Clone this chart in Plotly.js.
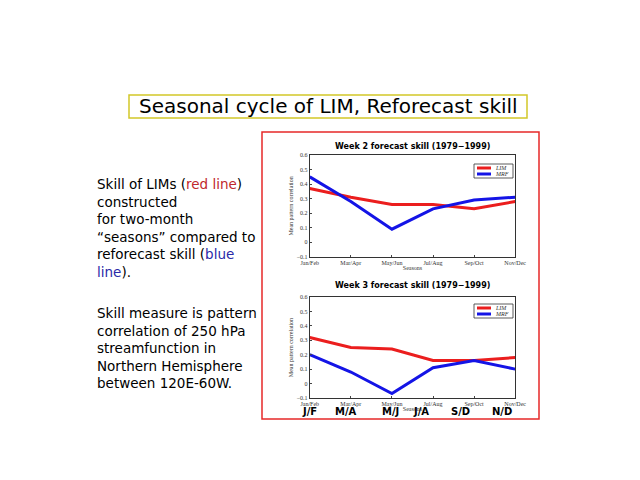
<!DOCTYPE html>
<html>
<head>
<script src="https://cdn.plot.ly/plotly-3.0.1.min.js"></script>
<style>body{margin:0;}#chart{width:640px;height:480px;}</style>
</head>
<body>
<div id="chart"></div>
<script>
var seasons = ['Jan/Feb', 'Mar/Apr', 'May/Jun', 'Jul/Aug', 'Sep/Oct', 'Nov/Dec'];
var shortSeasons = ['J/F', 'M/A', 'M/J', 'J/A', 'S/D', 'N/D'];
var week2_lim = [0.37, 0.31, 0.26, 0.26, 0.23, 0.28];
var week2_mrf = [0.45, 0.28, 0.09, 0.23, 0.29, 0.31];
var week3_lim = [0.32, 0.25, 0.24, 0.16, 0.16, 0.18];
var week3_mrf = [0.20, 0.08, -0.07, 0.11, 0.16, 0.10];

var red = 'rgb(235,30,30)';
var blue = 'rgb(20,20,230)';

function tr(y, name, color, xa, ya) {
    return {x: seasons, y: y, name: name, type: 'scatter', mode: 'lines',
        line: {color: color, width: 3}, xaxis: xa, yaxis: ya, showlegend: false};
}

var data = [
    tr(week2_lim, 'LIM', red, 'x', 'y'),
    tr(week2_mrf, 'MRF', blue, 'x', 'y'),
    tr(week3_lim, 'LIM', red, 'x2', 'y2'),
    tr(week3_mrf, 'MRF', blue, 'x2', 'y2')
];

var axFont = {family: 'Liberation Serif', size: 6, color: '#333'};
function xax(anchor) {
    return {domain: [0.484, 0.805], anchor: anchor, range: [0, 5], tickfont: axFont,
        showline: true, mirror: true, linecolor: '#333', showgrid: false, ticks: 'inside', ticklen: 2,
        title: {text: 'Seasons', font: axFont, standoff: 0}};
}
function yax(anchor, dom) {
    return {domain: dom, anchor: anchor, range: [-0.1, 0.6], dtick: 0.1, tickfont: axFont,
        showline: true, mirror: true, linecolor: '#333', showgrid: false, zeroline: false,
        ticks: 'inside', ticklen: 2,
        title: {text: 'Mean pattern correlation', font: axFont, standoff: 2}};
}

var ann = [
    {text: 'Seasonal cycle of LIM, Reforecast skill', x: 328, y: 106, size: 20, xanchor: 'center'},
    {text: 'Week 2 forecast skill (1979\u22121999)', x: 412, y: 146, size: 8, xanchor: 'center', bold: true},
    {text: 'Week 3 forecast skill (1979\u22121999)', x: 412, y: 285, size: 8, xanchor: 'center', bold: true},
    {text: 'Skill of LIMs (<span style="color:#c0282d">red line</span>)<br>constructed<br>for two-month<br>\u201cseasons\u201d compared to<br>reforecast skill (<span style="color:#2a2aa8">blue</span><br><span style="color:#2a2aa8">line</span>).', x: 95, y: 228, size: 13.5, xanchor: 'left'},
    {text: 'Skill measure is pattern<br>correlation of 250 hPa<br>streamfunction in<br>Northern Hemisphere<br>between 120E-60W.', x: 95, y: 348, size: 13.5, xanchor: 'left'}
];
var annotations = ann.map(function (a) {
    return {text: a.bold ? '<b>' + a.text + '</b>' : a.text, xref: 'paper', yref: 'paper',
        x: a.x / 640, y: 1 - a.y / 480, xanchor: a.xanchor, yanchor: 'middle', align: 'left',
        showarrow: false, font: {family: 'DejaVu Sans', size: a.size, color: '#000'}};
});
var shortX = [309, 346, 390, 431, 472, 514];
shortSeasons.forEach(function (s, i) {
    annotations.push({text: '<b>' + s + '</b>', xref: 'paper', yref: 'paper', x: shortX[i] / 640,
        y: 1 - 419 / 480, showarrow: false, font: {family: 'DejaVu Sans', size: 10, color: '#000'}});
});
// legends
[[168, 174], [308, 314]].forEach(function (ys) {
    [['LIM', red, ys[0]], ['MRF', blue, ys[1]]].forEach(function (l) {
        annotations.push({text: '<i>' + l[0] + '</i>', xref: 'paper', yref: 'paper', x: 493 / 640,
            y: 1 - l[2] / 480, xanchor: 'left', showarrow: false,
            font: {family: 'Liberation Serif', size: 6, color: '#333'}});
    });
});
var shapes = [];
[[168, 174], [308, 314]].forEach(function (ys) {
    shapes.push({type: 'rect', xref: 'paper', yref: 'paper', x0: 474 / 640, x1: 513 / 640,
        y0: 1 - (ys[1] + 4) / 480, y1: 1 - (ys[0] - 4) / 480,
        line: {color: '#333', width: 0.8}, fillcolor: 'white'});
    shapes.push({type: 'line', xref: 'paper', yref: 'paper', x0: 477 / 640, x1: 491 / 640,
        y0: 1 - ys[0] / 480, y1: 1 - ys[0] / 480, line: {color: red, width: 3}});
    shapes.push({type: 'line', xref: 'paper', yref: 'paper', x0: 477 / 640, x1: 491 / 640,
        y0: 1 - ys[1] / 480, y1: 1 - ys[1] / 480, line: {color: blue, width: 3}});
});
// borders
shapes.push({type: 'rect', xref: 'paper', yref: 'paper', x0: 262 / 640, x1: 539 / 640,
    y0: 1 - 419 / 480, y1: 1 - 132 / 480, line: {color: 'rgb(230,40,40)', width: 1.5}});
shapes.push({type: 'rect', xref: 'paper', yref: 'paper', x0: 129 / 640, x1: 527 / 640,
    y0: 1 - 118 / 480, y1: 1 - 95 / 480, line: {color: 'rgb(210,200,40)', width: 1.5}});

var layout = {
    width: 640, height: 480, margin: {l: 0, r: 0, t: 0, b: 0},
    paper_bgcolor: 'white', plot_bgcolor: 'white', showlegend: false,
    xaxis: xax('y'), yaxis: yax('x', [0.465, 0.677]),
    xaxis2: xax('y2'), yaxis2: yax('x2', [0.171, 0.381]),
    annotations: annotations, shapes: shapes
};

Plotly.newPlot('chart', data, layout, {staticPlot: true});
</script>
</body>
</html>
